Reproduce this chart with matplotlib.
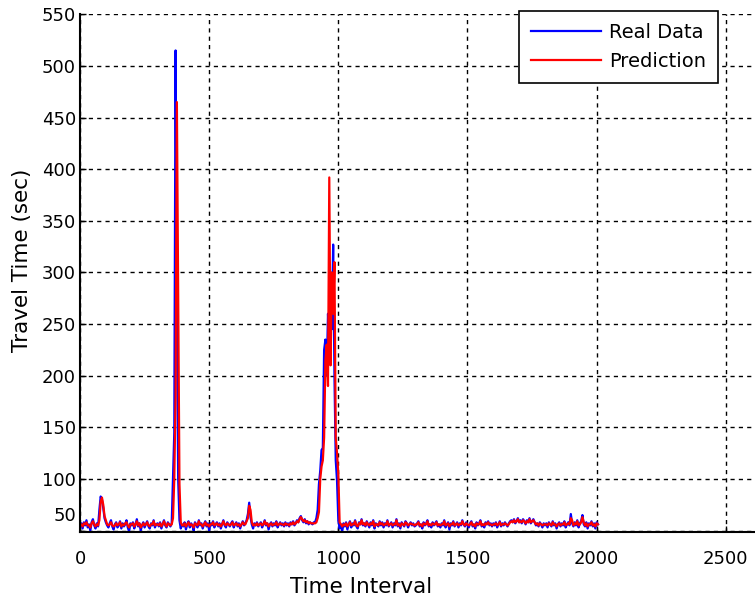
import numpy as np
import matplotlib
matplotlib.use("Agg")
import matplotlib.pyplot as plt
import matplotlib.transforms as mtransforms

# travel time samples, one every STEP time intervals
STEP = 5

real_data = [
    54, 57, 52, 58, 55, 60, 53, 56, 50, 58, 61, 55, 52, 57, 54, 70, 83, 80, 72, 62,
    58, 55, 53, 57, 60, 54, 51, 56, 58, 53, 55, 59, 52, 57, 54, 56, 60, 53, 49, 57,
    55, 58, 52, 56, 61, 54, 57, 50, 55, 58, 53, 56, 59, 54, 52, 57, 55, 60, 53, 56,
    57, 54, 58, 52, 56, 60, 55, 53, 58, 56, 54, 57, 100, 145, 515, 270, 100, 60, 52, 56,
    54, 58, 51, 56, 59, 53, 57, 55, 50, 58, 56, 53, 60, 55, 57, 52, 56, 59, 54, 57,
    50, 57, 55, 59, 53, 56, 58, 54, 57, 52, 56, 60, 55, 53, 58, 56, 54, 57, 59, 53,
    56, 58, 54, 57, 52, 56, 59, 55, 57, 60, 66, 77, 63, 56, 52, 57, 55, 58, 54, 56,
    58, 53, 56, 60, 55, 57, 51, 56, 58, 54, 57, 55, 59, 53, 56, 58, 55, 57, 54, 58,
    55, 57, 54, 58, 56, 59, 55, 57, 60, 58, 62, 64, 60, 58, 61, 57, 59, 56, 58, 57,
    56, 58, 58, 62, 70, 95, 108, 128, 130, 225, 235, 200, 260, 230, 290, 245, 327, 200, 118, 98,
    60, 52, 56, 49, 57, 54, 58, 51, 56, 59, 53, 57, 55, 60, 54, 52, 58, 56, 61, 55,
    57, 54, 59, 56, 53, 58, 55, 60, 52, 57, 56, 54, 59, 55, 58, 53, 57, 55, 60, 54,
    56, 58, 53, 57, 55, 61, 54, 57, 52, 58, 56, 54, 59, 57, 53, 56, 58, 55, 57, 54,
    55, 57, 59, 54, 56, 52, 58, 55, 57, 60, 54, 56, 53, 58, 55, 57, 59, 54, 56, 53,
    57, 55, 60, 53, 56, 58, 51, 57, 55, 59, 54, 56, 58, 53, 57, 55, 60, 56, 54, 58,
    55, 53, 57, 59, 54, 56, 52, 58, 55, 57, 60, 54, 56, 53, 58, 56, 59, 55, 57, 54,
    57, 55, 58, 53, 56, 59, 54, 57, 55, 58, 56, 54, 57, 59, 60, 58, 61, 57, 59, 62,
    58, 60, 57, 61, 59, 56, 60, 58, 62, 57, 59, 61, 58, 55, 57, 54, 58, 56, 53, 57,
    55, 57, 53, 58, 56, 54, 59, 55, 57, 52, 56, 58, 54, 57, 55, 59, 53, 56, 58, 55,
    66, 57, 54, 58, 55, 60, 53, 57, 59, 65, 56, 54, 58, 52, 57, 55, 59, 54, 57, 52,
    58, 56,
]

prediction = [
    55, 56, 54, 57, 56, 58, 55, 55, 53, 57, 59, 56, 54, 56, 55, 60, 78, 82, 75, 64,
    60, 56, 55, 56, 58, 55, 54, 55, 57, 55, 56, 58, 54, 56, 55, 57, 58, 55, 53, 56,
    56, 57, 54, 56, 59, 55, 57, 53, 55, 57, 55, 56, 58, 55, 54, 56, 56, 59, 55, 56,
    56, 55, 57, 54, 56, 59, 56, 54, 57, 56, 55, 56, 62, 100, 180, 465, 272, 95, 58, 55,
    55, 57, 54, 56, 58, 55, 56, 55, 53, 57, 56, 55, 59, 56, 56, 54, 56, 58, 55, 56,
    54, 56, 56, 58, 55, 56, 57, 55, 56, 54, 56, 59, 56, 55, 57, 56, 55, 56, 58, 55,
    56, 57, 55, 56, 54, 56, 58, 56, 56, 59, 62, 74, 70, 58, 55, 56, 55, 57, 55, 56,
    57, 55, 56, 59, 56, 57, 54, 56, 57, 55, 56, 56, 58, 55, 56, 57, 56, 56, 55, 57,
    56, 56, 55, 57, 56, 58, 56, 57, 59, 58, 61, 63, 61, 59, 60, 58, 59, 57, 58, 57,
    57, 57, 57, 58, 62, 68, 100, 112, 118, 140, 215, 230, 190, 392, 210, 300, 260, 310, 140, 125,
    105, 58, 56, 54, 56, 55, 57, 54, 56, 58, 55, 56, 56, 59, 55, 54, 57, 56, 60, 56,
    57, 55, 58, 56, 55, 57, 56, 59, 54, 56, 56, 55, 58, 56, 57, 55, 56, 56, 59, 55,
    56, 57, 55, 56, 56, 60, 55, 56, 54, 57, 56, 55, 58, 57, 55, 56, 57, 56, 56, 55,
    56, 56, 58, 55, 56, 54, 57, 56, 56, 59, 55, 56, 55, 57, 56, 56, 58, 55, 56, 55,
    56, 56, 59, 55, 56, 57, 54, 56, 56, 58, 55, 56, 57, 55, 56, 56, 59, 56, 55, 57,
    56, 55, 56, 58, 55, 56, 54, 57, 56, 56, 59, 55, 56, 55, 57, 56, 58, 56, 56, 55,
    56, 56, 57, 55, 56, 58, 55, 56, 56, 57, 56, 55, 56, 58, 59, 58, 60, 58, 59, 61,
    58, 59, 58, 60, 59, 57, 59, 58, 61, 58, 59, 60, 58, 56, 57, 55, 57, 56, 55, 56,
    56, 56, 55, 57, 56, 55, 58, 56, 56, 54, 56, 57, 55, 56, 56, 58, 55, 56, 57, 56,
    62, 60, 55, 57, 56, 59, 55, 56, 58, 63, 58, 55, 57, 54, 56, 56, 58, 55, 56, 54,
    57, 56,
]

x_ticks = [0, 500, 1000, 1500, 2000, 2500]
y_ticks = [50, 100, 150, 200, 250, 300, 350, 400, 450, 500, 550]

time = np.arange(len(real_data)) * STEP

plt.rcParams['font.family'] = ['DejaVu Sans']

fig = plt.figure(figsize=(7.55, 6.04), dpi=100)
ax = fig.add_axes([80 / 755, 1 - 532 / 604, 1 - 80 / 755, (532 - 14.3) / 604])

ax.plot(time, real_data, color='#0000ff', lw=1.6, label='Real Data')
ax.plot(time, prediction, color='#ff0000', lw=1.6, label='Prediction')

ax.set_xlim(0, 2613)
ax.set_ylim(48.6, 550)
ax.set_xticks(x_ticks)
ax.set_yticks(y_ticks)

ax.spines['top'].set_visible(False)
ax.spines['right'].set_visible(False)
for s in ['left', 'bottom']:
    ax.spines[s].set_linewidth(1.5)
    ax.spines[s].set_color('black')

ax.grid(True, color='black', linestyle=(0, (3, 3)), linewidth=1.0)
ax.tick_params(direction='in', length=4, width=1, labelsize=13)
ax.tick_params(axis='x', pad=13)
ax.tick_params(axis='y', pad=3)

# the lowest y label sits a bit above its tick
lab50 = ax.get_yticklabels()[0]
lab50.set_transform(lab50.get_transform() +
                    mtransforms.ScaledTranslation(0, 12 / 72, fig.dpi_scale_trans))

ax.set_xlabel('Time Interval', fontsize=15.5)
ax.set_ylabel('Travel Time (sec)', fontsize=15.5)
ax.xaxis.set_label_coords((361 - 80) / 675, -(587 - 532) / 518, transform=ax.transAxes)
ax.xaxis.label.set_va('center')
ax.yaxis.set_label_coords(-(80 - 22) / 675, (532 - 260) / 518, transform=ax.transAxes)
ax.yaxis.label.set_va('center')

leg = ax.legend(loc='upper right', bbox_to_anchor=(718 / 755, 1 - 11 / 604),
                bbox_transform=fig.transFigure, borderaxespad=0, fancybox=False,
                framealpha=1, edgecolor='black', fontsize=14, handlelength=3.6,
                handletextpad=0.4, borderpad=0.62, labelspacing=0.5)
leg.get_frame().set_linewidth(1.2)

fig.savefig('out.png', dpi=100)
